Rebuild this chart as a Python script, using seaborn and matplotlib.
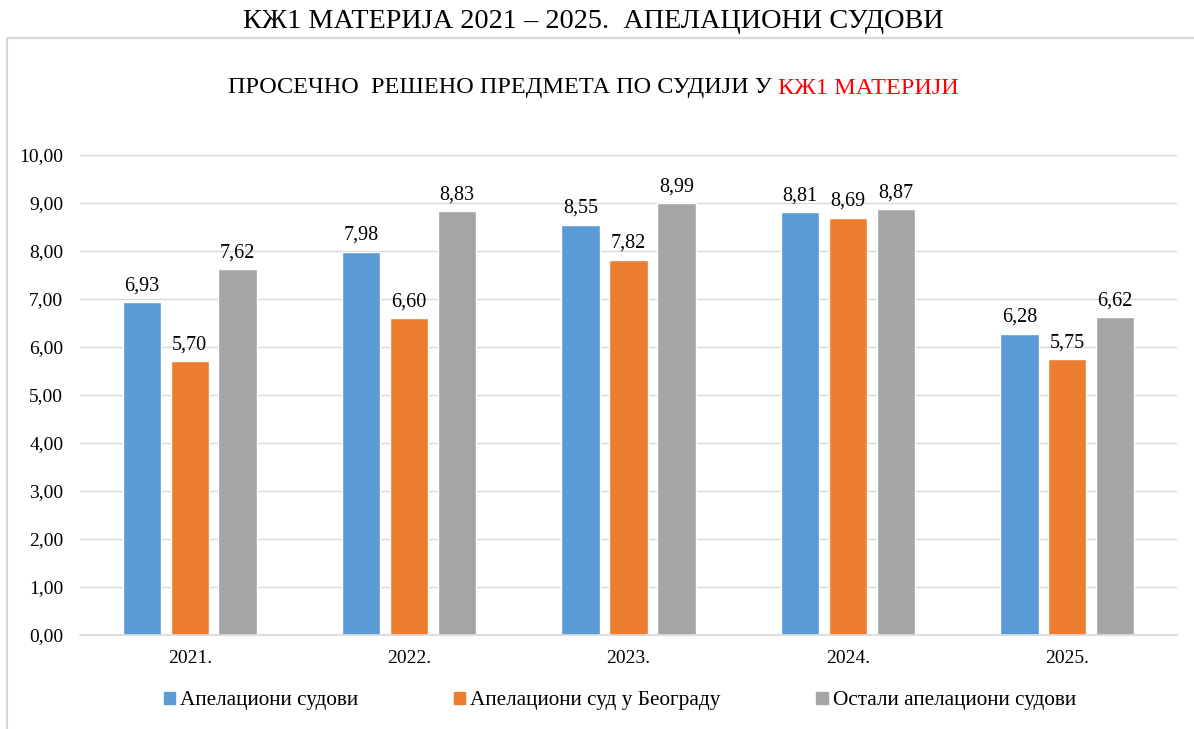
import matplotlib
matplotlib.use('Agg')
import matplotlib.pyplot as plt
import matplotlib.patches as mpatches
import pandas as pd
import seaborn as sns

years = ['2021.', '2022.', '2023.', '2024.', '2025.']
series = ['Апелациони судови', 'Апелациони суд у Београду', 'Остали апелациони судови']
apelacioni = [6.93, 7.98, 8.55, 8.81, 6.28]
beograd = [5.70, 6.60, 7.82, 8.69, 5.75]
ostali = [7.62, 8.83, 8.99, 8.87, 6.62]
yticks = [0, 1, 2, 3, 4, 5, 6, 7, 8, 9, 10]
colors = ['#5B9BD5', '#ED7D31', '#A5A5A5']

df = pd.DataFrame({
    'year': years * 3,
    'series': [series[0]] * 5 + [series[1]] * 5 + [series[2]] * 5,
    'value': apelacioni + beograd + ostali,
})

sns.set_theme(style='white')
plt.rcParams['font.family'] = ['Liberation Serif', 'DejaVu Serif']
plt.rcParams['text.color'] = 'black'
plt.rcParams['xtick.color'] = 'black'
plt.rcParams['ytick.color'] = 'black'

W, H = 1194, 729
fig = plt.figure(figsize=(W / 100, H / 100), dpi=100)

# outer frame of the chart area
fig.patches.append(mpatches.Rectangle((7 / W, -0.05), 1.1, 1 - 38 / H + 0.05,
                                      transform=fig.transFigure, fill=False,
                                      edgecolor='#D9D9D9', linewidth=1.5))

ax = fig.add_axes([80 / W, 1 - 635 / H, (1177 - 80) / W, (635 - 155) / H])
sns.barplot(data=df, x='year', y='value', hue='series', palette=colors,
            width=0.656, gap=0.2, ax=ax, legend=False, saturation=1)

for cont in ax.containers:
    labels = [f'{b.get_height():.2f}'.replace('.', ',') for b in cont]
    ax.bar_label(cont, labels=labels, padding=5, fontsize=14.5, color='black')

ax.set_ylim(0, 10)
ax.set_xlim(-0.5, 4.5)
ax.set_yticks(yticks)
ax.set_yticklabels([f'{t:.2f}'.replace('.', ',') for t in yticks], fontsize=14)
ax.tick_params(axis='x', labelsize=14, pad=11, length=0, labelcolor='black')
ax.tick_params(axis='y', pad=12, length=0, labelcolor='black')
ax.set_xlabel('')
ax.set_ylabel('')
ax.yaxis.grid(True, color='#D9D9D9', linewidth=1)
ax.set_axisbelow(True)
for s in ['top', 'right', 'left']:
    ax.spines[s].set_visible(False)
ax.spines['bottom'].set_color('#D9D9D9')

fig.text(593 / W, 1 - 22 / H, 'КЖ1 МАТЕРИЈА 2021 – 2025.  АПЕЛАЦИОНИ СУДОВИ',
         ha='center', va='center', fontsize=20.3, color='black')

renderer = fig.canvas.get_renderer()
t1 = fig.text(228 / W, 1 - 88 / H, 'ПРОСЕЧНО  РЕШЕНО ПРЕДМЕТА ПО СУДИЈИ У ',
              ha='left', va='center', fontsize=17.5, color='black')
bb = t1.get_window_extent(renderer=renderer)
fig.text(bb.x1 / W, 1 - 88 / H, 'КЖ1 МАТЕРИЈИ', ha='left', va='center',
         fontsize=17.5, color='#FF0000')

handles = [mpatches.Patch(color=c, label=l) for c, l in zip(colors, series)]
fig.legend(handles=handles, loc='center', bbox_to_anchor=(620 / W, 1 - 701 / H),
           ncol=3, frameon=False, fontsize=15.3, handlelength=0.52, handleheight=0.52,
           handletextpad=0.25, columnspacing=4.5, labelcolor='black')

fig.savefig('out.png', dpi=100)
